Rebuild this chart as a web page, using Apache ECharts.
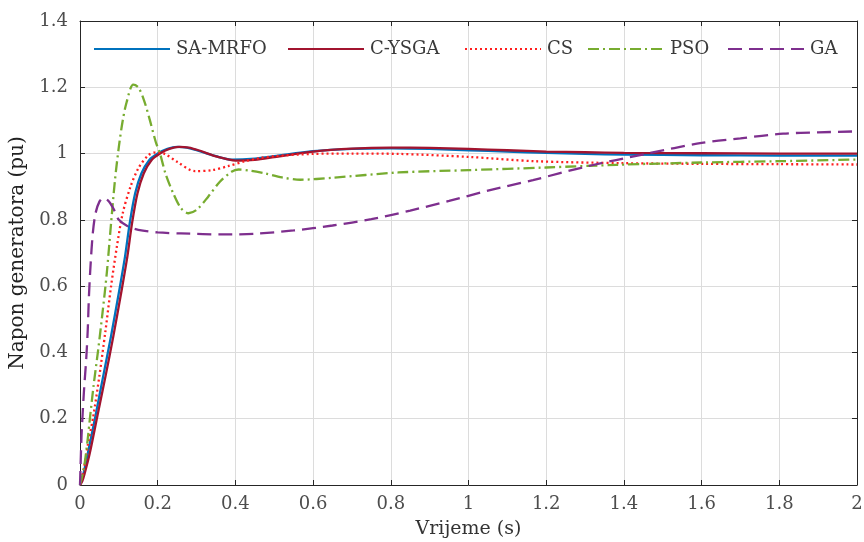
<!DOCTYPE html>
<html>
<head>
<meta charset="utf-8">
<script src="https://cdn.jsdelivr.net/npm/echarts@6/dist/echarts.min.js"></script>
<style>html,body{margin:0;padding:0;background:#fff;}#c{width:864px;height:542px;}</style>
</head>
<body>
<div id="c"></div>
<script>
const seriesNames = ['SA-MRFO', 'C-YSGA', 'CS', 'PSO', 'GA'];
const xTicks = [0, 0.2, 0.4, 0.6, 0.8, 1, 1.2, 1.4, 1.6, 1.8, 2];
const yTicks = [0, 0.2, 0.4, 0.6, 0.8, 1, 1.2, 1.4];

const tSAMRFO = [0,0.005,0.01,0.02,0.04,0.06,0.08,0.1,0.116,0.128,0.142,0.158,0.178,0.2,0.225,0.25,0.275,0.3,0.35,0.39,0.45,0.5,0.6,0.7,0.8,0.9,1.0,1.1,1.2,1.3,1.4,1.6,1.8,2.0];
const vSAMRFO = [0,0.015,0.04,0.095,0.21,0.33,0.45,0.58,0.69,0.79,0.88,0.94,0.98,1.0,1.014,1.02,1.018,1.01,0.992,0.982,0.985,0.992,1.007,1.014,1.016,1.014,1.01,1.006,1.002,0.999,0.997,0.995,0.994,0.994];

const tCYSGA = [0,0.006,0.012,0.025,0.045,0.066,0.086,0.106,0.122,0.134,0.148,0.164,0.184,0.206,0.23,0.255,0.28,0.305,0.355,0.4,0.45,0.5,0.6,0.7,0.8,0.9,1.0,1.1,1.2,1.3,1.4,1.6,1.8,2.0];
const vCYSGA = [0,0.012,0.035,0.095,0.21,0.33,0.45,0.58,0.69,0.79,0.88,0.94,0.98,1.0,1.014,1.02,1.018,1.01,0.99,0.979,0.981,0.989,1.006,1.015,1.018,1.017,1.014,1.01,1.006,1.004,1.002,1.001,1.0,1.0];

const tCS = [0,0.01,0.02,0.034,0.05,0.065,0.08,0.095,0.11,0.13,0.15,0.176,0.197,0.22,0.25,0.296,0.34,0.381,0.425,0.46,0.5,0.6,0.7,0.82,1.0,1.17,1.4,1.6,1.8,2.0];
const vCS = [0,0.05,0.12,0.206,0.33,0.46,0.6,0.72,0.82,0.9,0.955,0.995,1.004,0.998,0.975,0.947,0.95,0.962,0.977,0.986,0.992,0.999,1.0,0.999,0.99,0.977,0.971,0.969,0.968,0.967];

const tPSO = [0,0.01,0.02,0.026,0.035,0.047,0.058,0.069,0.08,0.09,0.1,0.11,0.12,0.137,0.15,0.165,0.18,0.195,0.206,0.22,0.24,0.26,0.279,0.3,0.33,0.36,0.39,0.408,0.44,0.476,0.52,0.567,0.65,0.82,1.0,1.2,1.38,1.6,1.8,2.0];
const vPSO = [0,0.05,0.14,0.206,0.3,0.41,0.52,0.64,0.79,0.92,1.02,1.1,1.155,1.208,1.2,1.16,1.1,1.035,1.0,0.94,0.88,0.835,0.82,0.83,0.87,0.915,0.945,0.952,0.948,0.94,0.928,0.921,0.927,0.943,0.95,0.958,0.966,0.973,0.977,0.982];

const tGA = [0,0.002,0.004,0.01,0.016,0.02,0.023,0.027,0.033,0.04,0.05,0.06,0.075,0.09,0.1,0.124,0.15,0.2,0.26,0.373,0.45,0.55,0.65,0.75,0.85,0.95,1.05,1.166,1.3,1.46,1.6,1.7,1.81,1.9,2.0];
const vGA = [0,0.08,0.15,0.28,0.38,0.47,0.57,0.66,0.76,0.82,0.855,0.866,0.855,0.825,0.80,0.78,0.77,0.762,0.759,0.756,0.758,0.768,0.783,0.802,0.828,0.857,0.888,0.92,0.96,1.0,1.032,1.046,1.06,1.064,1.067];

const colors = ['#0072BD', '#A2142F', '#FF1F1F', '#77AC30', '#7E2F8E'];
const dashes = ['solid', 'solid', [2, 3], [11, 4, 2, 4], [14, 7]];
const legendLeft = [93, 287, 464, 587, 727];
const tArr = [tSAMRFO, tCYSGA, tCS, tPSO, tGA];
const vArr = [vSAMRFO, vCYSGA, vCS, vPSO, vGA];

const FONT = 'DejaVu Serif';
const chart = echarts.init(document.getElementById('c'), null, {renderer: 'canvas'});

function makeX(show) {
  return {
    type: 'value', min: xTicks[0], max: xTicks[xTicks.length - 1], interval: 0.2,
    position: show ? 'bottom' : 'top',
    name: show ? 'Vrijeme (s)' : '', nameLocation: 'middle', nameGap: 35,
    nameTextStyle: {fontFamily: FONT, fontSize: 19, color: '#333'},
    axisLine: {show: true, onZero: false, lineStyle: {color: '#262626', width: 1}},
    axisTick: {show: true, inside: true, length: 5, lineStyle: {color: '#262626'}},
    axisLabel: {show: show, margin: 10, fontFamily: FONT, fontSize: 18, color: '#4d4d4d',
      formatter: v => String(xTicks.find(t => Math.abs(t - v) < 1e-9) ?? v)},
    splitLine: {show: show, lineStyle: {color: '#dcdcdc', width: 1}}
  };
}
function makeY(show) {
  return {
    type: 'value', min: yTicks[0], max: yTicks[yTicks.length - 1], interval: 0.2,
    position: show ? 'left' : 'right',
    name: show ? 'Napon generatora (pu)' : '', nameLocation: 'middle', nameGap: 52,
    nameTextStyle: {fontFamily: FONT, fontSize: 20, color: '#222'},
    axisLine: {show: true, onZero: false, lineStyle: {color: '#262626', width: 1}},
    axisTick: {show: true, inside: true, length: 5, lineStyle: {color: '#262626'}},
    axisLabel: {show: show, margin: 12, fontFamily: FONT, fontSize: 18, color: '#4d4d4d',
      formatter: v => String(yTicks.find(t => Math.abs(t - v) < 1e-9) ?? v)},
    splitLine: {show: show, lineStyle: {color: '#dcdcdc', width: 1}}
  };
}

chart.setOption({
  animation: false,
  backgroundColor: '#fff',
  grid: {left: 80, right: 7, top: 21, bottom: 57, containLabel: false, outerBoundsMode: 'none'},
  legend: seriesNames.map((name, i) => ({
    data: [name], left: legendLeft[i], top: 40, padding: 0,
    itemWidth: 76, itemHeight: 12, itemGap: 0,
    itemStyle: {opacity: 0, borderWidth: 0},
    textStyle: {fontFamily: FONT, fontSize: 18, color: '#3a3a3a', padding: [0, 0, 0, 1]}
  })),
  xAxis: [makeX(true), makeX(false)],
  yAxis: [makeY(true), makeY(false)],
  series: seriesNames.map((name, i) => ({
    name: name, type: 'line', xAxisIndex: 0, yAxisIndex: 0,
    data: tArr[i].map((t, k) => [t, vArr[i][k]]),
    symbol: 'none', showSymbol: false, smooth: 0.3, z: 2 + i,
    color: colors[i],
    lineStyle: {color: colors[i], width: 2.3, type: dashes[i]}
  }))
});
</script>
</body>
</html>
